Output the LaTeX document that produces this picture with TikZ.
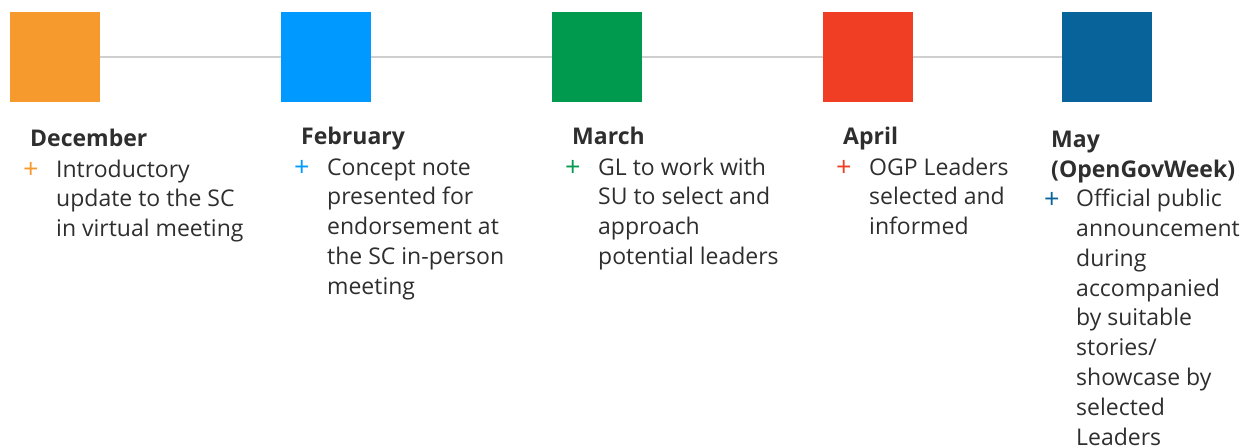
\documentclass[tikz,border=0pt]{standalone}
\usepackage{fontspec}
\setmainfont{Open Sans}
\definecolor{cdec}{HTML}{F79A2E}
\definecolor{cfeb}{HTML}{0099FF}
\definecolor{cmar}{HTML}{009A4E}
\definecolor{capr}{HTML}{EF3E24}
\definecolor{cmay}{HTML}{08639A}
\definecolor{ctxt}{HTML}{2E2E2E}
\definecolor{cline}{HTML}{CFCFCF}
\begin{document}
\begin{tikzpicture}[x=1pt,y=-1pt,
  sq/.style={fill=#1, draw=none, minimum size=90pt, inner sep=0pt, anchor=north west},
  hd/.style={anchor=base west, inner sep=0pt, align=left, text=ctxt, font=\fontsize{23}{29.8}\selectfont\bfseries},
  bd/.style={anchor=base west, inner sep=0pt, align=left, text=ctxt, font=\fontsize{23}{29.8}\selectfont},
  pl/.style={anchor=base west, inner sep=0pt, text=#1, font=\fontsize{27}{30}\selectfont},
  tl/.style={draw=cline, line width=1.5pt}]
\useasboundingbox (0,0) rectangle (1249,447);
\node[sq=cdec] (s1) at (10,12) {};
\node[sq=cfeb] (s2) at (281,12) {};
\node[sq=cmar] (s3) at (552,12) {};
\node[sq=capr] (s4) at (823,12) {};
\node[sq=cmay] (s5) at (1062,12) {};
\draw[tl] (s1) -- (s2);
\draw[tl] (s2) -- (s3);
\draw[tl] (s3) -- (s4);
\draw[tl] (s4) -- (s5);
% December (base anchor = last line)
\node[hd] (h1) at (30,146) {December};
\node[pl=cdec] (p1) at (23,178) {+};
\node[bd] (t1) at (56,236.6) {Introductory\\update to the SC\\in virtual meeting};
% February
\node[hd] (h2) at (301,144) {February};
\node[pl=cfeb] (p2) at (294,176) {+};
\node[bd] (t2) at (327,294.2) {Concept note\\presented for\\endorsement at\\the SC in-person\\meeting};
% March
\node[hd] (h3) at (572,144) {March};
\node[pl=cmar] (p3) at (565,176) {+};
\node[bd] (t3) at (598,264.4) {GL to work with\\SU to select and\\approach\\potential leaders};
% April
\node[hd] (h4) at (843,144) {April};
\node[pl=capr] (p4) at (836,176) {+};
\node[bd] (t4) at (869,234.6) {OGP Leaders\\selected and\\informed};
% May
\node[hd] (h5) at (1051,177) {May\\(OpenGovWeek)};
\node[pl=cmay] (p5) at (1044,208) {+};
\node[bd] (t5) at (1076,445) {Official public\\announcement\\during\\accompanied\\by suitable\\stories/\\showcase by\\selected\\Leaders};
\end{tikzpicture}
\end{document}
